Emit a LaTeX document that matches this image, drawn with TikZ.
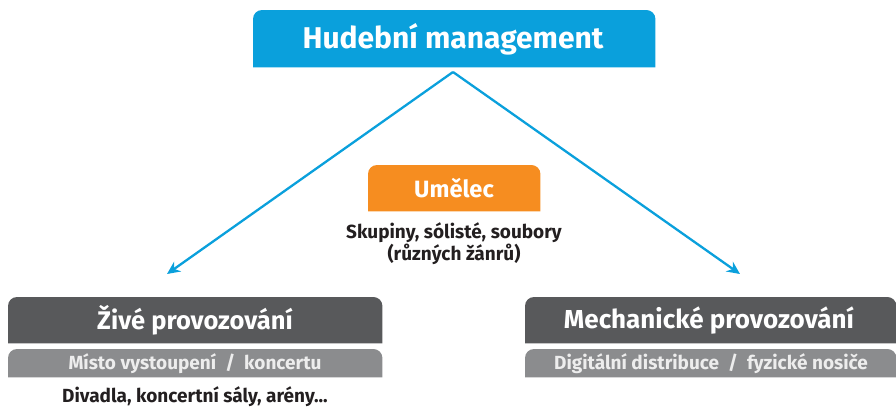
\documentclass[tikz,border=0pt]{standalone}
\usepackage{fontspec}
\setmainfont{Fira Sans}[UprightFont=* SemiBold, BoldFont=* Bold]
\usetikzlibrary{arrows.meta,backgrounds}
\definecolor{cblue}{HTML}{0AA0DC}
\definecolor{corange}{HTML}{F68D20}
\definecolor{cdark}{HTML}{58595B}
\definecolor{clight}{HTML}{8B8C8E}
\definecolor{ctext}{HTML}{231F20}
\definecolor{cpale}{HTML}{EDEDED}
\tikzset{
  boxbase/.style={inner sep=0pt, anchor=north west},
  hdr/.style={text=white, font=\fontsize{#1}{#1}\selectfont\bfseries},
  sub/.style={text=cpale, font=\fontsize{19}{19}\selectfont\bfseries},
  body/.style={text=ctext, font=\fontsize{19}{22}\selectfont\bfseries, align=center},
  conn/.style={draw=cblue, line width=2.3pt, -{Stealth[length=13pt,width=12pt]}},
}
\newcommand{\topround}[2]{% fill node #1 with colour #2, rounded top corners
  \fill[#2] (#1.south west) [rounded corners=9pt] -- (#1.north west) -- (#1.north east) [sharp corners] -- (#1.south east) -- cycle;}
\begin{document}
\begin{tikzpicture}[x=1pt,y=-1pt]
\useasboundingbox (0,0) rectangle (896,408);
% boxes
\node[boxbase, minimum width=402pt, minimum height=57pt] (top) at (253,10) {};
\node[hdr=30] (toptxt) at (453,39) {Hudební management};
\node[boxbase, minimum width=172pt, minimum height=46pt] (art) at (368,165) {};
\node[hdr=23.6] (arttxt) at (454,188.5) {Umělec};
\node[body] (artsub) at (454,244) {Skupiny, sólisté, soubory\\(různých žánrů)};
\node[boxbase, minimum width=374pt, minimum height=46pt] (live) at (8,297) {};
\node[hdr=25.5] (livetxt) at (195,320.5) {Živé provozování};
\node[boxbase, minimum width=374pt, minimum height=28pt] (livesub) at (8,349) {};
\node[sub] (livesubtxt) at (195,363.5) {Místo vystoupení\ \ /\ \ koncertu};
\node[body] (livebody) at (195,397) {Divadla, koncertní sály, arény...};
\node[boxbase, minimum width=371pt, minimum height=46pt] (mech) at (525,297) {};
\node[hdr=26] (mechtxt) at (709,320.5) {Mechanické provozování};
\node[boxbase, minimum width=371pt, minimum height=28pt] (mechsub) at (525,349) {};
\node[sub] (mechsubtxt) at (711,363.5) {Digitální distribuce\ \ /\ \ fyzické nosiče};
\begin{scope}[on background layer]
\topround{top}{cblue}
\topround{art}{corange}
\topround{live}{cdark}
\topround{livesub}{clight}
\topround{mech}{cdark}
\topround{mechsub}{clight}
\end{scope}
\coordinate (apex) at (453,72);
\coordinate (ltip) at (167,274);
\coordinate (rtip) at (740,274);
\draw[conn] (apex) -- (ltip);
\draw[conn] (apex) -- (rtip);
\end{tikzpicture}
\end{document}
